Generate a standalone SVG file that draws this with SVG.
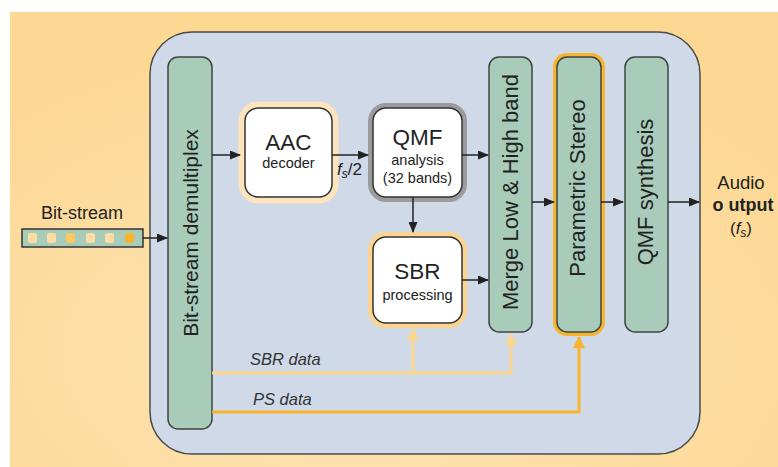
<svg xmlns="http://www.w3.org/2000/svg" width="778" height="467" viewBox="0 0 778 467">
<defs>
<radialGradient id="bg" cx="0.45" cy="0.75" r="0.7">
<stop offset="0" stop-color="#fee4b8"/>
<stop offset="1" stop-color="#fdd893"/>
</radialGradient>
<marker id="ar" markerWidth="11" markerHeight="9" refX="10" refY="4.5" orient="auto" markerUnits="userSpaceOnUse">
<path d="M0,0 L11,4.5 L0,9 Z" fill="#222"/>
</marker>
<marker id="arL" markerWidth="12" markerHeight="12" refX="11" refY="6" orient="auto" markerUnits="userSpaceOnUse">
<path d="M0,0 L12,6 L0,12 Z" fill="#fdd68e"/>
</marker>
<marker id="arO" markerWidth="12" markerHeight="12" refX="11" refY="6" orient="auto" markerUnits="userSpaceOnUse">
<path d="M0,0 L12,6 L0,12 Z" fill="#f9b42e"/>
</marker>
</defs>
<style>
text{font-family:"Liberation Sans",Arial,sans-serif;fill:#222}
.green{fill:#a8cbba;stroke:#3d4642;stroke-width:1.5}
.white{fill:#fff;stroke:#333;stroke-width:1.5}
.big{font-size:22.5px;text-anchor:middle}
.small{font-size:14.5px;text-anchor:middle}
.vert{font-size:22px;text-anchor:middle}
.conn{stroke:#222;stroke-width:1.5;fill:none}
.sbr{stroke:#fdd68e;stroke-width:3;fill:none}
.ps{stroke:#f9b42e;stroke-width:3;fill:none}
.lbl{font-size:16.5px;font-style:italic;fill:#333}
.sq{stroke:none}
</style>
<rect x="0" y="0" width="778" height="467" fill="#fff"/>
<rect x="10" y="12" width="768" height="455" fill="url(#bg)"/>
<g id="main-box"><rect x="150" y="32" width="550" height="422" rx="42" fill="#cfd9e8" stroke="#4a4a4a" stroke-width="1.5"/></g>

<g id="bitstream">
<text x="82" y="219" font-size="18" text-anchor="middle">Bit-stream</text>
<rect x="22" y="229" width="121" height="18" fill="#a8cbba" stroke="#333" stroke-width="1.5"/>
<rect class="sq" x="28" y="233" width="9" height="10" rx="2" fill="#fedca2"/>
<rect class="sq" x="47" y="233" width="9" height="10" rx="2" fill="#fedca2"/>
<rect class="sq" x="66" y="233" width="9" height="10" rx="2" fill="#fdc860"/>
<rect class="sq" x="86" y="233" width="9" height="10" rx="2" fill="#fedca2"/>
<rect class="sq" x="105" y="233" width="9" height="10" rx="2" fill="#fedca2"/>
<rect class="sq" x="125" y="233" width="9" height="10" rx="2" fill="#f9b42e"/>
</g>

<g id="demux">
<rect class="green" x="168" y="57" width="44" height="372" rx="10"/>
<text class="vert" font-size="21" style="font-size:21px" transform="translate(198,233) rotate(-90)">Bit-stream demultiplex</text>
</g>

<g id="aac">
<rect x="245" y="108" width="87" height="89" rx="13" fill="none" stroke="#fde4bd" stroke-width="13"/>
<rect class="white" x="245" y="108" width="87" height="89" rx="13"/>
<text class="big" x="288.5" y="150">AAC</text>
<text class="small" x="288.5" y="168">decoder</text>
</g>

<g id="qmf-analysis">
<rect x="373" y="108" width="89" height="89" rx="13" fill="none" stroke="#9b9b9d" stroke-width="10"/>
<rect class="white" x="373" y="108" width="89" height="89" rx="13"/>
<text class="big" x="417.5" y="145">QMF</text>
<text class="small" x="417.5" y="165">analysis</text>
<text class="small" x="417.5" y="183">(32 bands)</text>
</g>

<g id="sbr">
<rect x="373" y="237" width="89" height="86" rx="13" fill="none" stroke="#fdd48d" stroke-width="10"/>
<rect class="white" x="373" y="237" width="89" height="86" rx="13"/>
<text class="big" x="417.5" y="279">SBR</text>
<text class="small" x="417.5" y="300">processing</text>
</g>

<g id="merge">
<rect class="green" x="489" y="57" width="43" height="275" rx="10"/>
<text class="vert" transform="translate(518,192) rotate(-90)">Merge Low &amp; High band</text>
</g>

<g id="parametric-stereo">
<rect x="557" y="57" width="44" height="275" rx="10" fill="none" stroke="#f9b42e" stroke-width="8"/>
<rect class="green" x="557" y="57" width="44" height="275" rx="10"/>
<text class="vert" transform="translate(585,188) rotate(-90)">Parametric Stereo</text>
</g>

<g id="qmf-synthesis">
<rect class="green" x="625" y="57" width="43" height="275" rx="10"/>
<text class="vert" transform="translate(653,192) rotate(-90)">QMF synthesis</text>
</g>

<g id="audio-output">
<text x="741" y="189" font-size="18.5" text-anchor="middle">Audio</text>
<text x="743" y="211" font-size="18" font-weight="bold" text-anchor="middle">o utput</text>
<text x="741" y="234" font-size="17" text-anchor="middle">(<tspan font-style="italic">f</tspan><tspan font-style="italic" font-size="12" dy="3">s</tspan><tspan dy="-3">)</tspan></text>
</g>

<g id="connectors">
<line class="conn" x1="143" y1="238" x2="167" y2="238" marker-end="url(#ar)"/>
<line class="conn" x1="212" y1="155" x2="240" y2="155" marker-end="url(#ar)"/>
<line class="conn" x1="332" y1="155" x2="368" y2="155" marker-end="url(#ar)"/>
<line class="conn" x1="462" y1="155" x2="488" y2="155" marker-end="url(#ar)"/>
<line class="conn" x1="413" y1="197" x2="413" y2="232" marker-end="url(#ar)"/>
<line class="conn" x1="462" y1="280" x2="488" y2="280" marker-end="url(#ar)"/>
<line class="conn" x1="532" y1="202" x2="554" y2="202" marker-end="url(#ar)"/>
<line class="conn" x1="601" y1="202" x2="623" y2="202" marker-end="url(#ar)"/>
<line class="conn" x1="668" y1="202" x2="699" y2="202" marker-end="url(#ar)"/>
<polyline class="sbr" points="212,373 511,373 511,334" marker-end="url(#arL)"/>
<line class="sbr" x1="413" y1="373" x2="413" y2="329" marker-end="url(#arL)"/>
<polyline class="ps" points="212,412 579,412 579,337" marker-end="url(#arO)"/>
<text class="lbl" x="250" y="365">SBR data</text>
<text class="lbl" x="253" y="405">PS data</text>
<text x="337" y="175" font-size="17" fill="#333"><tspan font-style="italic">f</tspan><tspan font-style="italic" font-size="12" dy="3">s</tspan><tspan dy="-3">/2</tspan></text>
</g>
</svg>
